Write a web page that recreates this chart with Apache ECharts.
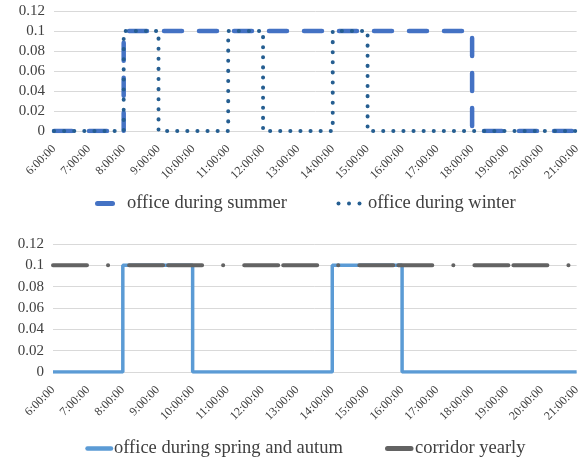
<!DOCTYPE html>
<html><head><meta charset="utf-8">
<script src="https://cdn.jsdelivr.net/npm/echarts@6/dist/echarts.min.js"></script>
<style>html,body{margin:0;padding:0;background:#fff}#c{width:583px;height:461px}</style>
</head><body><div id="c"></div>
<script>
// Hourly values (value holds from the hour until the next hour)
const hours    = [6, 7, 8, 9, 10, 11, 12, 13, 14, 15, 16, 17, 18, 19, 20, 21];
const summer   = [0, 0, 0.1, 0.1, 0.1, 0.1, 0.1, 0.1, 0.1, 0.1, 0.1, 0.1, 0, 0, 0, 0];
const winter   = [0, 0, 0.1, 0, 0, 0.1, 0, 0, 0.1, 0, 0, 0, 0, 0, 0, 0];
const spring   = [0, 0, 0.1, 0.1, 0, 0, 0, 0, 0.1, 0.1, 0, 0, 0, 0, 0, 0];
const corridor = [0.1, 0.1, 0.1, 0.1, 0.1, 0.1, 0.1, 0.1, 0.1, 0.1, 0.1, 0.1, 0.1, 0.1, 0.1, 0.1];
const seriesNames = ['office during summer', 'office during winter', 'office during spring and autum', 'corridor yearly'];
const yTicks = { min: 0, max: 0.12, interval: 0.02 };

const FONT = '"Liberation Serif", "Times New Roman", serif';
const TXT = '#404040';
const C_SUMMER = '#4472C4', C_WINTER = '#255E91', C_SPRING = '#5B9BD5', C_CORR = '#636363';
const pts = arr => hours.map((h, i) => [h, arr[i]]);

function xAxis(gi) {
  return {
    type: 'value', gridIndex: gi, min: hours[0], max: hours[hours.length - 1], interval: 1,
    axisLine: { show: false }, axisTick: { show: false }, splitLine: { show: false },
    axisLabel: { rotate: 45, margin: 16, color: TXT, fontFamily: FONT, fontSize: 12,
      formatter: v => v + ':00:00' }
  };
}
function yAxis(gi) {
  return {
    type: 'value', gridIndex: gi, min: yTicks.min, max: yTicks.max, interval: yTicks.interval,
    axisLine: { show: false }, axisTick: { show: false },
    splitLine: { lineStyle: { color: '#D9D9D9', width: 1 } },
    axisLabel: { color: TXT, fontFamily: FONT, fontSize: 15, margin: 9,
      formatter: v => String(+v.toFixed(2)) }
  };
}
function legend(name, left, top, w, pad) {
  return {
    data: [{ name: name, icon: 'none' }], left: left, top: top, itemWidth: w, itemHeight: 1,
    padding: 0, itemGap: 0,
    textStyle: { color: TXT, fontFamily: FONT, fontSize: 18.5, padding: [0, 0, 0, pad] }
  };
}
function keyLine(x1, x2, y, color, width) {
  return { type: 'line', silent: true, shape: { x1: x1, y1: y, x2: x2, y2: y },
    style: { stroke: color, lineWidth: width, lineCap: 'round' } };
}
function keyDot(x, y, color) {
  return { type: 'circle', silent: true, shape: { cx: x, cy: y, r: 2 }, style: { fill: color } };
}

const chart = echarts.init(document.getElementById('c'), null, { renderer: 'canvas' });
chart.setOption({
  animation: false,
  textStyle: { fontFamily: FONT },
  grid: [
    { left: 54, right: 6, top: 11, height: 120 },
    { left: 53, right: 6, top: 244, height: 128 }
  ],
  xAxis: [xAxis(0), xAxis(1)],
  yAxis: [yAxis(0), yAxis(1)],
  legend: [
    legend(seriesNames[0], 97, 194, 16, 9),
    legend(seriesNames[1], 338, 194, 21, 4),
    legend(seriesNames[2], 87, 439, 25, -3),
    legend(seriesNames[3], 387, 439, 25, -2)
  ],
  graphic: [
    keyLine(97.5, 112.5, 203.5, C_SUMMER, 5),
    keyDot(338.5, 203.5, C_WINTER), keyDot(349, 203.5, C_WINTER), keyDot(359.5, 203.5, C_WINTER),
    keyLine(87.5, 111, 448.5, C_SPRING, 4.5),
    keyLine(387.5, 411, 448.5, C_CORR, 5)
  ],
  series: [
    { name: seriesNames[0], type: 'line', xAxisIndex: 0, yAxisIndex: 0, step: 'end', showSymbol: false,
      symbol: 'none', color: C_SUMMER, data: pts(summer),
      lineStyle: { width: 4.5, type: [18, 17], cap: 'round', color: C_SUMMER } },
    { name: seriesNames[1], type: 'line', xAxisIndex: 0, yAxisIndex: 0, step: 'end', showSymbol: false,
      symbol: 'none', color: C_WINTER, data: pts(winter),
      lineStyle: { width: 4, type: [0.1, 10], cap: 'round', color: C_WINTER } },
    { name: seriesNames[2], type: 'line', xAxisIndex: 1, yAxisIndex: 1, step: 'end', showSymbol: false,
      symbol: 'none', color: C_SPRING, data: pts(spring),
      lineStyle: { width: 3.5, color: C_SPRING } },
    { name: seriesNames[3], type: 'line', xAxisIndex: 1, yAxisIndex: 1, step: 'end', showSymbol: false,
      symbol: 'none', color: C_CORR, data: pts(corridor),
      lineStyle: { width: 4, type: [34, 5, 34, 21, 0.1, 21], dashOffset: 39, cap: 'round', color: C_CORR } }
  ]
});
</script></body></html>
